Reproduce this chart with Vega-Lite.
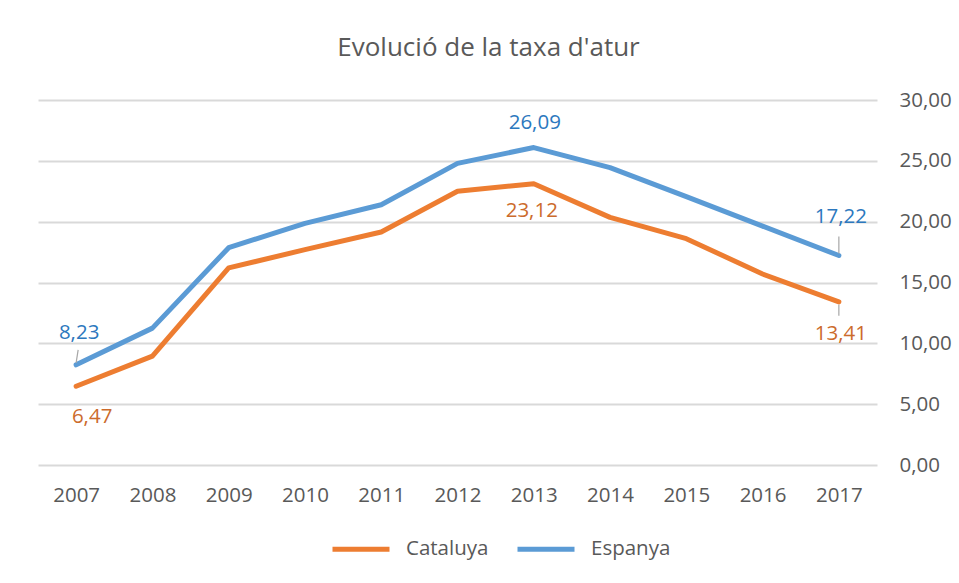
{
  "$schema": "https://vega.github.io/schema/vega-lite/v6.json",
  "width": 839,
  "height": 365,
  "autosize": {"type": "none"},
  "padding": {"left": 38, "top": 100, "right": 82, "bottom": 118},
  "background": "white",
  "title": {
    "text": "Evolució de la taxa d'atur",
    "anchor": "middle",
    "frame": "group",
    "dx": 31,
    "offset": 8,
    "baseline": "alphabetic",
    "font": "Open Sans",
    "fontSize": 26,
    "fontWeight": "normal",
    "color": "#595959"
  },
  "data": {
    "values": [
      {"year": "2007", "serie": "Cataluya", "value": 6.47},
      {"year": "2008", "serie": "Cataluya", "value": 8.95},
      {"year": "2009", "serie": "Cataluya", "value": 16.2},
      {"year": "2010", "serie": "Cataluya", "value": 17.7},
      {"year": "2011", "serie": "Cataluya", "value": 19.15},
      {"year": "2012", "serie": "Cataluya", "value": 22.5},
      {"year": "2013", "serie": "Cataluya", "value": 23.12},
      {"year": "2014", "serie": "Cataluya", "value": 20.35},
      {"year": "2015", "serie": "Cataluya", "value": 18.6},
      {"year": "2016", "serie": "Cataluya", "value": 15.7},
      {"year": "2017", "serie": "Cataluya", "value": 13.41},
      {"year": "2007", "serie": "Espanya", "value": 8.23},
      {"year": "2008", "serie": "Espanya", "value": 11.25},
      {"year": "2009", "serie": "Espanya", "value": 17.86},
      {"year": "2010", "serie": "Espanya", "value": 19.86},
      {"year": "2011", "serie": "Espanya", "value": 21.39},
      {"year": "2012", "serie": "Espanya", "value": 24.79},
      {"year": "2013", "serie": "Espanya", "value": 26.09},
      {"year": "2014", "serie": "Espanya", "value": 24.44},
      {"year": "2015", "serie": "Espanya", "value": 22.06},
      {"year": "2016", "serie": "Espanya", "value": 19.63},
      {"year": "2017", "serie": "Espanya", "value": 17.22}
    ]
  },
  "encoding": {
    "x": {
      "field": "year",
      "type": "ordinal",
      "scale": {"type": "point", "padding": 0.5},
      "axis": {
        "title": null,
        "domain": false,
        "ticks": false,
        "grid": false,
        "labelAngle": 0,
        "labelPadding": 20,
        "labelFont": "Open Sans",
        "labelFontSize": 20.5,
        "labelColor": "#595959"
      }
    },
    "y": {
      "field": "value",
      "type": "quantitative",
      "scale": {"domain": [0, 30], "nice": false},
      "axis": {
        "orient": "right",
        "title": null,
        "domain": false,
        "ticks": false,
        "values": [0, 5, 10, 15, 20, 25, 30],
        "format": ".2f",
        "grid": true,
        "gridColor": "#D9D9D9",
        "gridWidth": 2,
        "labelPadding": 22,
        "labelAlign": "left",
        "labelFont": "Open Sans",
        "labelFontSize": 20.5,
        "labelColor": "#595959"
      }
    }
  },
  "layer": [
    {
      "mark": {"type": "line", "strokeWidth": 5, "strokeJoin": "round", "strokeCap": "round"},
      "encoding": {
        "color": {
          "field": "serie",
          "type": "nominal",
          "scale": {"domain": ["Cataluya", "Espanya"], "range": ["#ED7D31", "#5B9BD5"]},
          "legend": {
            "title": null,
            "orient": "none",
            "direction": "horizontal",
            "legendX": 292,
            "legendY": 418,
            "padding": 0,
            "symbolType": "stroke",
            "symbolSize": 3249,
            "symbolStrokeWidth": 5,
            "labelFont": "Open Sans",
            "labelFontSize": 20.5,
            "labelColor": "#595959",
            "labelOffset": 14,
            "columnPadding": 18
          }
        }
      }
    },
    {
      "transform": [{"filter": "datum.serie == 'Espanya' && datum.year == '2007'"}],
      "mark": {"type": "text", "dx": 3, "dy": -32, "baseline": "middle", "font": "Open Sans", "fontSize": 20.5, "color": "#2C78BE"},
      "encoding": {"text": {"field": "value", "type": "quantitative", "format": ".2f"}}
    },
    {
      "transform": [{"filter": "datum.serie == 'Espanya' && datum.year == '2013'"}],
      "mark": {"type": "text", "dx": 1, "dy": -25, "baseline": "middle", "font": "Open Sans", "fontSize": 20.5, "color": "#2C78BE"},
      "encoding": {"text": {"field": "value", "type": "quantitative", "format": ".2f"}}
    },
    {
      "transform": [{"filter": "datum.serie == 'Espanya' && datum.year == '2017'"}],
      "mark": {"type": "text", "dx": 2, "dy": -38, "baseline": "middle", "font": "Open Sans", "fontSize": 20.5, "color": "#2C78BE"},
      "encoding": {"text": {"field": "value", "type": "quantitative", "format": ".2f"}}
    },
    {
      "transform": [{"filter": "datum.serie == 'Cataluya' && datum.year == '2007'"}],
      "mark": {"type": "text", "dx": 16, "dy": 31, "baseline": "middle", "font": "Open Sans", "fontSize": 20.5, "color": "#CC6B2C"},
      "encoding": {"text": {"field": "value", "type": "quantitative", "format": ".2f"}}
    },
    {
      "transform": [{"filter": "datum.serie == 'Cataluya' && datum.year == '2013'"}],
      "mark": {"type": "text", "dx": -2, "dy": 27, "baseline": "middle", "font": "Open Sans", "fontSize": 20.5, "color": "#CC6B2C"},
      "encoding": {"text": {"field": "value", "type": "quantitative", "format": ".2f"}}
    },
    {
      "transform": [{"filter": "datum.serie == 'Cataluya' && datum.year == '2017'"}],
      "mark": {"type": "text", "dx": 2, "dy": 32, "baseline": "middle", "font": "Open Sans", "fontSize": 20.5, "color": "#CC6B2C"},
      "encoding": {"text": {"field": "value", "type": "quantitative", "format": ".2f"}}
    },
    {
      "transform": [{"filter": "datum.serie == 'Espanya' && datum.year == '2007'"}],
      "mark": {"type": "rule", "color": "#A6A6A6", "strokeWidth": 1.2, "xOffset": 0, "x2Offset": 2, "yOffset": -2, "y2Offset": -15},
      "encoding": {"x2": {"field": "year"}, "y2": {"field": "value"}}
    },
    {
      "transform": [{"filter": "datum.serie == 'Espanya' && datum.year == '2017'"}],
      "mark": {"type": "rule", "color": "#A6A6A6", "strokeWidth": 1.2, "yOffset": -2, "y2Offset": -19},
      "encoding": {"y2": {"field": "value"}}
    },
    {
      "transform": [{"filter": "datum.serie == 'Cataluya' && datum.year == '2017'"}],
      "mark": {"type": "rule", "color": "#A6A6A6", "strokeWidth": 1.2, "yOffset": 3, "y2Offset": 14},
      "encoding": {"y2": {"field": "value"}}
    }
  ],
  "config": {
    "locale": {"number": {"decimal": ",", "thousands": ".", "grouping": [3], "currency": ["", " €"]}},
    "view": {"stroke": null}
  }
}
